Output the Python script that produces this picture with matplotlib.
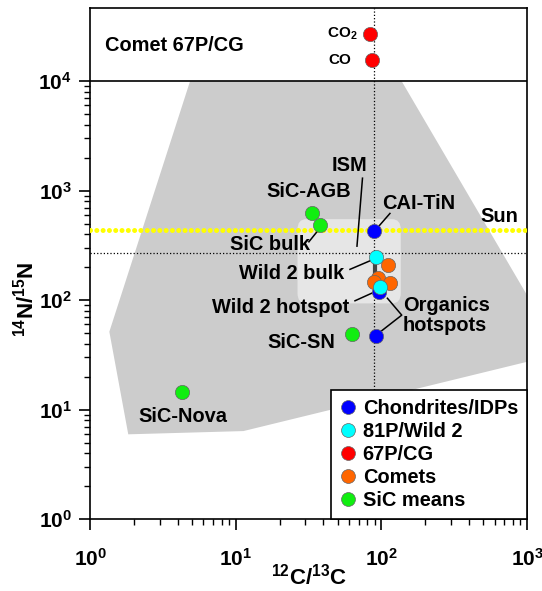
import matplotlib
matplotlib.use("Agg")
import matplotlib.pyplot as plt
from matplotlib.lines import Line2D
from matplotlib.patches import Polygon, FancyBboxPatch

plt.rcParams['font.family'] = 'Liberation Sans'
plt.rcParams['font.weight'] = 'bold'
plt.rcParams['mathtext.fontset'] = 'custom'
plt.rcParams['mathtext.rm'] = 'Liberation Sans:bold'
plt.rcParams['mathtext.it'] = 'Liberation Sans:bold'
plt.rcParams['mathtext.bf'] = 'Liberation Sans:bold'
plt.rcParams['mathtext.sf'] = 'Liberation Sans:bold'
plt.rcParams['mathtext.default'] = 'rm'

# data
chond_x = [89, 96.8, 91.8]
chond_y = [427, 119, 46.9]
wild2_x = [91.4, 97.8]
wild2_y = [248, 132]
cg_x = [84, 86]
cg_y = [27000, 15700]
comet_x = [111, 94.3, 114.5, 89]
comet_y = [209, 158, 142, 147]
sic_x = [33.6, 37.9, 62.5, 4.3]
sic_y = [627, 484, 48.9, 14.4]

wild2_bar_x = 90.4
wild2_bar_y = [143, 232]

terr_c = 89
terr_n = 268
sun_n = 441
comet_panel = 1e4

field_x = [4.86, 1.357, 1.83, 11.3, 1000, 1000, 137.8]
field_y = [1e4, 51.4, 5.94, 6.36, 27.3, 111, 1e4]

ism_x = [26.2, 137.8]
ism_y = [93.3, 549]

labels = ["ISM", "SiC-AGB", "SiC bulk", "CAI-TiN", "Sun", "Wild 2 bulk",
          "Wild 2 hotspot", "Organics\nhotspots", "SiC-SN", "SiC-Nova",
          "Comet 67P/CG"]
label_x = [60.9, 61.8, 32.4, 101, 873, 55.4, 59.9, 141, 48.3, 4.37, 1.276]
label_y = [1710, 975, 325, 761, 581, 175, 86, 72.9, 40.9, 8.6, 21000]
label_ha = ['center', 'right', 'right', 'left', 'right', 'right', 'right',
            'left', 'right', 'center', 'left']

leaders = [
    ([74.2, 68], [1300, 311]),
    ([31.8, 36.9], [341, 436]),
    ([114.5, 95.2], [619, 467]),
    ([60.9, 85.8], [191, 232]),
    ([65.9, 95.2], [98.6, 123]),
    ([110, 138, 95.2], [104, 72.9, 49.6]),
]

gas_labels = ['CO$_2$', 'CO']
gas_label_x = [69, 62]

groups = ["Chondrites/IDPs", "81P/Wild 2", "67P/CG", "Comets", "SiC means"]
colors = ['#0000ff', '#00ffff', '#ff0000', '#ff6600', '#11ee11']

fig = plt.figure(figsize=(5.42, 5.91), dpi=100)
ax = fig.add_axes([0.1661, 0.1218, 0.8063, 0.8653])
ax.set_xscale('log')
ax.set_yscale('log')
ax.set_xlim(1, 1000)
ax.set_ylim(1, 4.7e4)

ax.add_patch(Polygon(list(zip(field_x, field_y)), closed=True,
                     facecolor='#cccccc', edgecolor='none', zorder=1))

# ISM box in axes coords so the corners stay round
to_ax = ax.transData + ax.transAxes.inverted()
(bx0, by0) = to_ax.transform((ism_x[0], ism_y[0]))
(bx1, by1) = to_ax.transform((ism_x[1], ism_y[1]))
ax.add_patch(FancyBboxPatch((bx0 + 0.018, by0 + 0.016), bx1 - bx0 - 0.036,
                            by1 - by0 - 0.032,
                            boxstyle='round,pad=0.016,rounding_size=0.02',
                            transform=ax.transAxes, facecolor='#e6e6e6',
                            edgecolor='none', zorder=2))

ax.axhline(comet_panel, color='black', lw=1.2, zorder=3)
ax.axvline(terr_c, color='black', lw=0.9, ls=':', zorder=3)
ax.axhline(terr_n, color='black', lw=0.9, ls=':', zorder=3)
ax.axhline(sun_n, color='#ffff00', lw=3.6, ls=(0, (0.01, 1.25)),
           dash_capstyle='round', zorder=4)

for lx, ly in leaders:
    ax.plot(lx, ly, color='black', lw=1.1, zorder=5)

ax.plot([wild2_bar_x, wild2_bar_x], wild2_bar_y, color='#444444', lw=3, zorder=5)

mk = dict(s=105, edgecolors='#666666', linewidths=0.5, zorder=6)
ax.scatter(comet_x, comet_y, color=colors[3], **mk)
ax.scatter(chond_x, chond_y, color=colors[0], **mk)
ax.scatter(wild2_x, wild2_y, color=colors[1], **mk)
ax.scatter(cg_x, cg_y, color=colors[2], **mk)
ax.scatter(sic_x, sic_y, color=colors[4], **mk)

for t, x, y, ha in zip(labels, label_x, label_y, label_ha):
    ax.text(x, y, t, ha=ha, va='center', fontsize=14.4, fontweight='bold',
            linespacing=1.05, zorder=7)
for t, x, y in zip(gas_labels, gas_label_x, cg_y):
    ax.text(x, y, t, ha='right', va='center', fontsize=11, fontweight='bold',
            zorder=7)

# ticks
ax.set_xticks([1, 10, 100, 1000])
ax.set_xticklabels([r'$10^{0}$', r'$10^{1}$', r'$10^{2}$', r'$10^{3}$'])
ax.set_xticks([m * 10.0 ** d for d in range(3) for m in range(2, 10)], minor=True)
ax.set_xticklabels([], minor=True)
ax.set_yticks([1, 10, 100, 1000, 10000])
ax.set_yticklabels([r'$10^{0}$', r'$10^{1}$', r'$10^{2}$', r'$10^{3}$', r'$10^{4}$'])
ax.set_yticks([m * 10.0 ** d for d in range(4) for m in range(2, 10)], minor=True)
ax.set_yticklabels([], minor=True)
ax.tick_params(which='major', direction='out', length=8, width=1.2, labelsize=15)
ax.tick_params(which='minor', direction='out', length=4, width=1.0)
ax.tick_params(axis='x', which='major', pad=13)
ax.tick_params(axis='y', which='major', pad=5)
for s in ax.spines.values():
    s.set_linewidth(1.2)

ax.set_xlabel(r'$^{12}$C/$^{13}$C', fontsize=16, fontweight='bold')
ax.set_ylabel(r'$^{14}$N/$^{15}$N', fontsize=16, fontweight='bold')
ax.xaxis.set_label_coords(0.5, -0.088)
ax.yaxis.set_label_coords(-0.118, 0.43)

handles = [Line2D([], [], ls='none', marker='o', markersize=10,
                  markerfacecolor=c, markeredgecolor='#666666',
                  markeredgewidth=0.5) for c in colors]
leg = ax.legend(handles, groups, loc='lower right', bbox_to_anchor=(1, 0),
                borderaxespad=0, fontsize=14.4, frameon=True, fancybox=False,
                framealpha=1, edgecolor='black', handlelength=0.8,
                handletextpad=0.35, borderpad=0.45, labelspacing=0.2)
leg.get_frame().set_linewidth(1.2)
leg.set_zorder(10)

fig.savefig('out.png', dpi=100)
